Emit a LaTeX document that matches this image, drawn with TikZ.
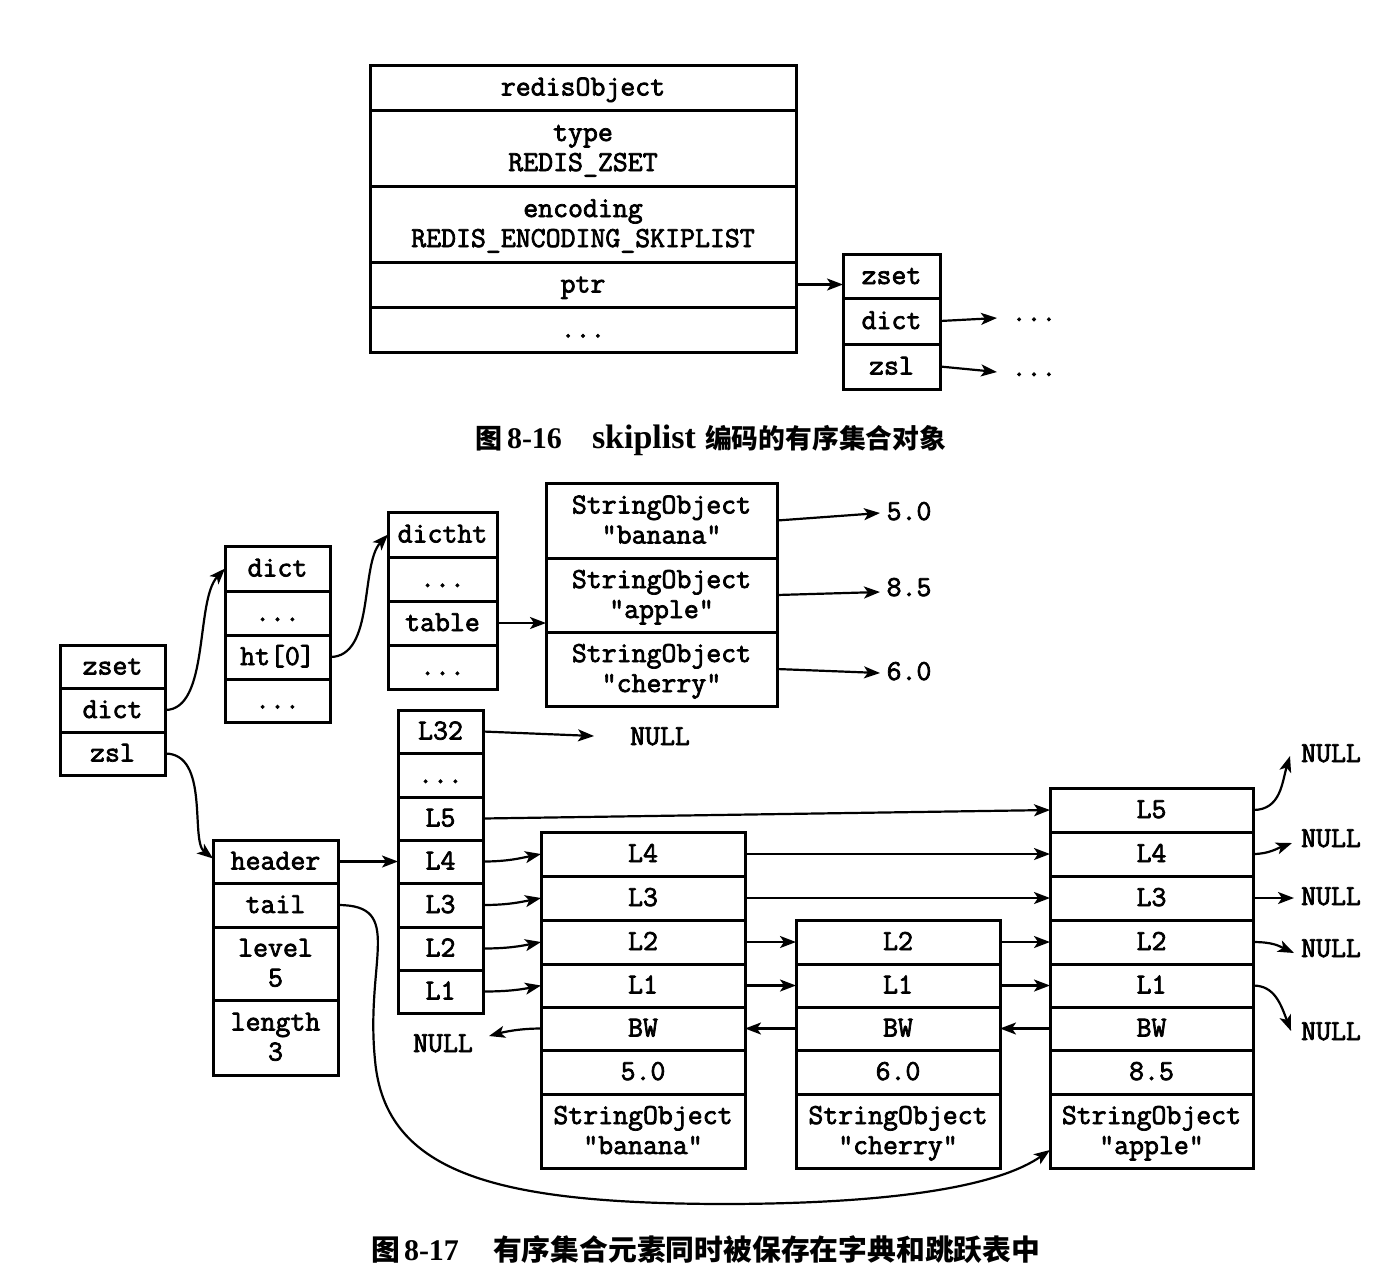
\documentclass[tikz,border=0pt]{standalone}
\usepackage{fontspec}
\usetikzlibrary{arrows.meta}
\newfontfamily\cjk{Noto Sans CJK SC}
\newfontfamily\capserif{Liberation Serif}
\newfontfamily\monofam{Latin Modern Mono}[FakeBold=2.5]
\newcommand\mono{\monofam\fontsize{29}{30}\selectfont}
\newcommand\tstrut{\rule[-9pt]{0pt}{34pt}}
\newcommand\topstrut{\rule{0pt}{25pt}}
\newcommand\botstrut{\rule[-9pt]{0pt}{9pt}}
\newcommand\mkcell[6]{\node[cell,minimum width={#4pt-#2pt},minimum height={#5pt-#3pt}] (#1) at ({(#2+#4)/2},{(#3+#5)/2}) {\topstrut#6\botstrut};}
\begin{document}
\begin{tikzpicture}[x=1pt,y=-1pt,
  cell/.style={draw, line width=3pt, inner sep=0pt, outer sep=0pt,
    font=\mono, align=center},
  lbl/.style={inner sep=0pt, outer sep=0pt, font=\mono,
    execute at begin node=\tstrut},
  arr/.style={line width=2.2pt, -{Stealth[length=16pt,width=12pt,inset=4pt]}},
  capc/.style={inner sep=0pt, outer sep=0pt, anchor=base west, font=\cjk\bfseries},
  capl/.style={inner sep=0pt, outer sep=0pt, anchor=base west, font=\capserif\bfseries\fontsize{30}{34}\selectfont},
]
\useasboundingbox[fill=white] (0,0) rectangle (1380,1270);

% ---------- figure 8-16 ----------
\mkcell{robj}{370}{65}{796}{110}{redisObject}
\mkcell{rtype}{370}{110}{796}{186}{type\\REDIS\_ZSET}
\mkcell{renc}{370}{186}{796}{262}{encoding\\REDIS\_ENCODING\_SKIPLIST}
\mkcell{rptr}{370}{262}{796}{307}{ptr}
\mkcell{rdots}{370}{307}{796}{352}{...}

\mkcell{tzset}{843}{254}{940}{298}{zset}
\mkcell{tdict}{843}{298}{940}{344}{dict}
\mkcell{tzsl}{843}{344}{940}{389}{zsl}

\node[lbl] (td1) at (1034,313) {...};
\node[lbl] (td2) at (1034,368) {...};
\coordinate (t1tip) at (997,318);
\coordinate (t2tip) at (997,372);

\draw[arr] (rptr.east) -- (rptr.east -| tzset.west);
\draw[arr] (tdict.east) -- (t1tip);
\draw[arr] (tzsl.east) -- (t2tip);

\node[capc, font=\cjk\bfseries\fontsize{27}{30}\selectfont] (c1a) at (475,448) {图};
\node[capl] (c1b) at (507,448) {8-16};
\node[capl, font=\capserif\bfseries\fontsize{34}{38}\selectfont] (c1c) at (592,448) {skiplist};
\node[capc, font=\cjk\bfseries\fontsize{26.8}{30}\selectfont] (c1d) at (705,448) {编码的有序集合对象};

% ---------- figure 8-17 ----------
\mkcell{bzset}{60}{645}{165}{688}{zset}
\mkcell{bdict}{60}{688}{165}{732}{dict}
\mkcell{bzsl}{60}{732}{165}{775}{zsl}

\mkcell{d1}{225}{546}{330}{591}{dict}
\mkcell{d2}{225}{591}{330}{635}{...}
\mkcell{dht}{225}{635}{330}{679}{ht[0]}
\mkcell{d4}{225}{679}{330}{722}{...}

\mkcell{h1}{388}{512}{497}{557}{dictht}
\mkcell{h2}{388}{557}{497}{601}{...}
\mkcell{htab}{388}{601}{497}{645}{table}
\mkcell{h4}{388}{645}{497}{689}{...}

\mkcell{sob}{546}{483}{777}{558}{StringObject\\"banana"}
\mkcell{soa}{546}{558}{777}{632}{StringObject\\"apple"}
\mkcell{soc}{546}{632}{777}{706}{StringObject\\"cherry"}

\node[lbl] (s50) at (909,512) {5.0};
\node[lbl] (s85) at (909,588) {8.5};
\node[lbl] (s60) at (909,672) {6.0};
\coordinate (s50tip) at (880,513);
\coordinate (s85tip) at (880,592);
\coordinate (s60tip) at (880,673);

\draw[arr] (bdict.east) .. controls +(45,0) and +(-30,32) .. (d1.west);
\draw[arr] (dht.east) .. controls +(45,0) and +(-28,30) .. (h1.west);
\draw[arr] (htab.east) -- (htab.east -| soa.west);
\draw[arr] (sob.east) -- (s50tip);
\draw[arr] (soa.east) -- (s85tip);
\draw[arr] (soc.east) -- (s60tip);

% header
\mkcell{hdr}{213}{840}{338}{883}{header}
\mkcell{tail}{213}{883}{338}{927}{tail}
\mkcell{lvl}{213}{927}{338}{1000}{level\\5}
\mkcell{len}{213}{1000}{338}{1075}{length\\3}

% header level array
\mkcell{a32}{398}{710}{483}{753}{L32}
\mkcell{adots}{398}{753}{483}{797}{...}
\mkcell{a5}{398}{797}{483}{840}{L5}
\mkcell{a4}{398}{840}{483}{883}{L4}
\mkcell{a3}{398}{883}{483}{927}{L3}
\mkcell{a2}{398}{927}{483}{970}{L2}
\mkcell{a1}{398}{970}{483}{1013}{L1}

% banana
\mkcell{b4}{541}{832}{745}{876}{L4}
\mkcell{b3}{541}{876}{745}{920}{L3}
\mkcell{b2}{541}{920}{745}{964}{L2}
\mkcell{b1}{541}{964}{745}{1007}{L1}
\mkcell{bbw}{541}{1007}{745}{1050}{BW}
\mkcell{bsc}{541}{1050}{745}{1094}{5.0}
\mkcell{bso}{541}{1094}{745}{1168}{StringObject\\"banana"}

% cherry
\mkcell{c2}{796}{920}{1000}{964}{L2}
\mkcell{c1}{796}{964}{1000}{1007}{L1}
\mkcell{cbw}{796}{1007}{1000}{1050}{BW}
\mkcell{csc}{796}{1050}{1000}{1094}{6.0}
\mkcell{cso}{796}{1094}{1000}{1168}{StringObject\\"cherry"}

% apple
\mkcell{p5}{1050}{788}{1253}{832}{L5}
\mkcell{p4}{1050}{832}{1253}{876}{L4}
\mkcell{p3}{1050}{876}{1253}{920}{L3}
\mkcell{p2}{1050}{920}{1253}{964}{L2}
\mkcell{p1}{1050}{964}{1253}{1007}{L1}
\mkcell{pbw}{1050}{1007}{1253}{1050}{BW}
\mkcell{psc}{1050}{1050}{1253}{1094}{8.5}
\mkcell{pso}{1050}{1094}{1253}{1168}{StringObject\\"apple"}

% NULL labels
\node[lbl] (n32) at (660,737) {NULL};
\node[lbl] (nbw) at (443,1044) {NULL};
\node[lbl] (n5) at (1331,754) {NULL};
\node[lbl] (n4) at (1331,839) {NULL};
\node[lbl] (n3) at (1331,897) {NULL};
\node[lbl] (n2) at (1331,949) {NULL};
\node[lbl] (n1) at (1331,1032) {NULL};
\coordinate (n32tip) at (594,736);
\coordinate (nbwtip) at (489,1036);
\coordinate (n5tip) at (1290,756);
\coordinate (n4tip) at (1292,843);
\coordinate (n3tip) at (1294,898);
\coordinate (n2tip) at (1294,953);
\coordinate (n1tip) at (1291,1031);

% connectors
\draw[arr] (bzsl.east) .. controls +(45,0) and +(-23,-18) .. ([yshift=3pt]hdr.west);
\draw[arr] (hdr.east) -- (a4.west);
\draw[arr] (a32.east) -- (n32tip);
\draw[arr] (a5.east) -- (p5.west);
\draw[arr] (a4.east) .. controls +(25,0) and +(-20,4) .. (b4.west);
\draw[arr] (a3.east) .. controls +(25,0) and +(-20,4) .. (b3.west);
\draw[arr] (a2.east) .. controls +(25,0) and +(-20,4) .. (b2.west);
\draw[arr] (a1.east) .. controls +(25,0) and +(-20,4) .. (b1.west);
\draw[arr] (b4.east) -- (p4.west);
\draw[arr] (b3.east) -- (p3.west);
\draw[arr] (b2.east) -- (c2.west);
\draw[arr] (c2.east) -- (p2.west);
\draw[arr] (b1.east) -- (c1.west);
\draw[arr] (c1.east) -- (p1.west);
\draw[arr] (cbw.west) -- (bbw.east);
\draw[arr] (pbw.west) -- (cbw.east);
\draw[arr] (bbw.west) .. controls +(-22,0) and +(15,-4) .. (nbwtip);
\draw[arr] (p5.east) .. controls +(28,0) and +(-8,26) .. (n5tip);
\draw[arr] (p4.east) .. controls +(16,0) and +(-14,5) .. (n4tip);
\draw[arr] (p3.east) -- (n3tip);
\draw[arr] (p2.east) .. controls +(20,0) and +(-15,-7) .. (n2tip);
\draw[arr] (p1.east) .. controls +(22,0) and +(-10,-26) .. (n1tip);
\coordinate (tailtip) at (1050,1150);
\draw[arr] (tail.east) .. controls (405,905) and (365,960) .. (375,1060)
  .. controls (385,1175) and (500,1203) .. (720,1204)
  .. controls (900,1204) and (1000,1185) .. (tailtip);

\node[capc, font=\cjk\bfseries\fontsize{28.8}{32}\selectfont] (c2a) at (371,1260) {图};
\node[capl] (c2b) at (404,1260) {8-17};
\node[capc, font=\cjk\bfseries\fontsize{28.8}{32}\selectfont] (c2d) at (493,1260) {有序集合元素同时被保存在字典和跳跃表中};
\end{tikzpicture}
\end{document}
